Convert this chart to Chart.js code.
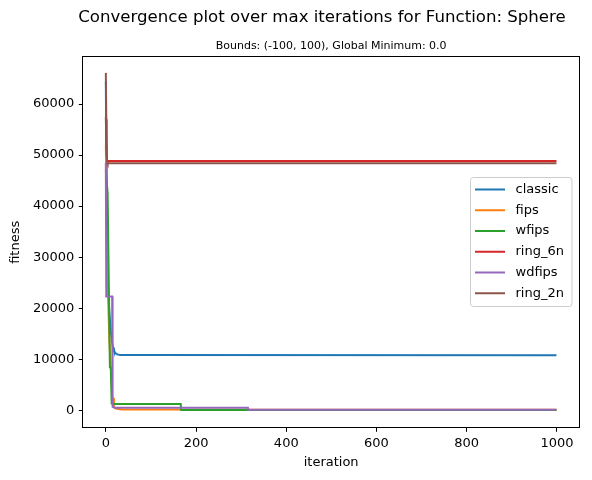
<!DOCTYPE html>
<html>
<head>
<meta charset="utf-8">
<script src="https://cdn.jsdelivr.net/npm/chart.js@4.4.0/dist/chart.umd.min.js"></script>
<style>
  body { margin: 0; background: #fff; }
  #chart { display: block; }
</style>
</head>
<body>
<canvas id="chart" width="592" height="480"></canvas>
<script>
// convergence data (iteration, best fitness)
var seriesNames = ['classic', 'fips', 'wfips', 'ring_6n', 'wdfips', 'ring_2n'];
var seriesColors = ['#1f77b4', '#ff7f0e', '#2ca02c', '#d62728', '#9467bd', '#8c564b'];

var classicIter = [0, 1, 2, 3, 5, 8, 11, 14, 16, 18, 21, 25, 32, 50, 999];
var classicFit = [64400, 50000, 38000, 30000, 24000, 19000, 15500, 13300, 12300, 11700, 11200, 10950, 10850, 10820, 10800];

var fipsIter = [0, 2, 4, 6, 8, 10, 12, 13, 14, 17, 18, 22, 35, 999];
var fipsFit = [52000, 36000, 26000, 19000, 13500, 10000, 7500, 5500, 2400, 2300, 600, 350, 150, 110];

var wfipsIter = [0, 4, 9, 11, 13, 15, 166, 167, 999];
var wfipsFit = [47000, 42500, 8400, 8300, 1300, 1230, 1230, 80, 80];

var ring6Iter = [0, 1, 2, 3, 4, 999];
var ring6Fit = [57500, 52000, 49500, 48900, 48830, 48830];

var wdfipsIter = [0, 1, 14, 15, 20, 315, 316, 999];
var wdfipsFit = [48500, 22300, 22300, 700, 520, 520, 100, 100];

var ring2Iter = [0, 1, 2, 3, 4, 999];
var ring2Fit = [66100, 57000, 50500, 48600, 48380, 48380];

var xTickVals = [0, 200, 400, 600, 800, 1000];
var yTickVals = [0, 10000, 20000, 30000, 40000, 50000, 60000];

var allIters = [classicIter, fipsIter, wfipsIter, ring6Iter, wdfipsIter, ring2Iter];
var allFits = [classicFit, fipsFit, wfipsFit, ring6Fit, wdfipsFit, ring2Fit];

function toPoints(iters, fits) {
    var pts = [];
    for (var i = 0; i < iters.length; i++) {
        pts.push({ x: iters[i], y: fits[i] });
    }
    return pts;
}

var datasets = seriesNames.map(function(name, i) {
    return {
        label: name,
        data: toPoints(allIters[i], allFits[i]),
        borderColor: seriesColors[i],
        backgroundColor: seriesColors[i],
        borderWidth: 2,
        pointRadius: 0,
        tension: 0,
        fill: false,
        // later series sit on top, like matplotlib
        order: seriesNames.length - i
    };
});

var FONT = 'DejaVu Sans';
Chart.defaults.font.family = FONT;
Chart.defaults.font.size = 13;
Chart.defaults.color = '#000';

// titles, frame and an in-axes legend, drawn the matplotlib way
var decorPlugin = {
    id: 'decor',
    afterDatasetsDraw: function(chart) {
        var ctx = chart.ctx;
        var a = chart.chartArea;
        ctx.save();
        ctx.strokeStyle = '#000';
        ctx.lineWidth = 1;
        ctx.strokeRect(Math.round(a.left) - 0.5, Math.round(a.top) - 0.5,
            Math.round(a.right - a.left) + 1, Math.round(a.bottom - a.top) + 1);
        ctx.restore();
    },
    afterDraw: function(chart) {
        var ctx = chart.ctx;
        var a = chart.chartArea;
        ctx.save();
        ctx.fillStyle = '#000';
        ctx.textAlign = 'center';
        ctx.textBaseline = 'middle';
        ctx.font = '16.6px "' + FONT + '"';
        ctx.fillText('Convergence plot over max iterations for Function: Sphere', 322, 18);
        ctx.font = '11px "' + FONT + '"';
        ctx.fillText('Bounds: (-100, 100), Global Minimum: 0.0', (a.left + a.right) / 2, 46.5);

        // legend box
        var bx = 470.5, by = 177.5, bw = 101.5, bh = 129;
        ctx.beginPath();
        ctx.roundRect(bx, by, bw, bh, 3);
        ctx.fillStyle = 'rgba(255,255,255,0.8)';
        ctx.fill();
        ctx.strokeStyle = '#cccccc';
        ctx.lineWidth = 1;
        ctx.stroke();

        ctx.font = '13px "' + FONT + '"';
        ctx.textAlign = 'left';
        chart.data.datasets.forEach(function(ds, i) {
            var yy = 189.5 + i * 20.75;
            ctx.beginPath();
            ctx.moveTo(475, yy);
            ctx.lineTo(505, yy);
            ctx.strokeStyle = ds.borderColor;
            ctx.lineWidth = 2;
            ctx.stroke();
            ctx.fillStyle = '#000';
            ctx.fillText(ds.label, 515.5, yy);
        });
        ctx.restore();
    }
};

var chart = new Chart(document.getElementById('chart'), {
    type: 'line',
    data: { datasets: datasets },
    plugins: [decorPlugin],
    options: {
        responsive: false,
        animation: false,
        devicePixelRatio: 1,
        layout: { padding: { left: 0, right: 13, top: 57.3, bottom: 0 } },
        plugins: {
            legend: { display: false },
            title: { display: false },
            tooltip: { enabled: false }
        },
        scales: {
            x: {
                type: 'linear',
                min: -49.95,
                max: 1048.95,
                afterFit: function(scale) { scale.height = 52.7; },
                afterBuildTicks: function(scale) {
                    scale.ticks = xTickVals.map(function(v) { return { value: v }; });
                },
                grid: { drawOnChartArea: false, drawTicks: true, tickLength: 4.5, tickColor: '#000' },
                border: { display: false },
                ticks: {
                    padding: 4.5,
                    maxRotation: 0,
                    autoSkip: false,
                    callback: function(v) { return String(v); }
                },
                title: { display: true, text: 'iteration', font: { size: 13 }, padding: { top: 0, bottom: 9.2 } }
            },
            y: {
                type: 'linear',
                min: -3330,
                max: 69150,
                afterFit: function(scale) { scale.width = 83.3; },
                afterBuildTicks: function(scale) {
                    scale.ticks = yTickVals.map(function(v) { return { value: v }; });
                },
                grid: { drawOnChartArea: false, drawTicks: true, tickLength: 4.5, tickColor: '#000' },
                border: { display: false },
                ticks: {
                    padding: 4.5,
                    autoSkip: false,
                    callback: function(v) { return String(v); }
                },
                title: { display: true, text: 'fitness', font: { size: 13 }, padding: { top: 8.2, bottom: 0 } }
            }
        }
    }
});
</script>
</body>
</html>
